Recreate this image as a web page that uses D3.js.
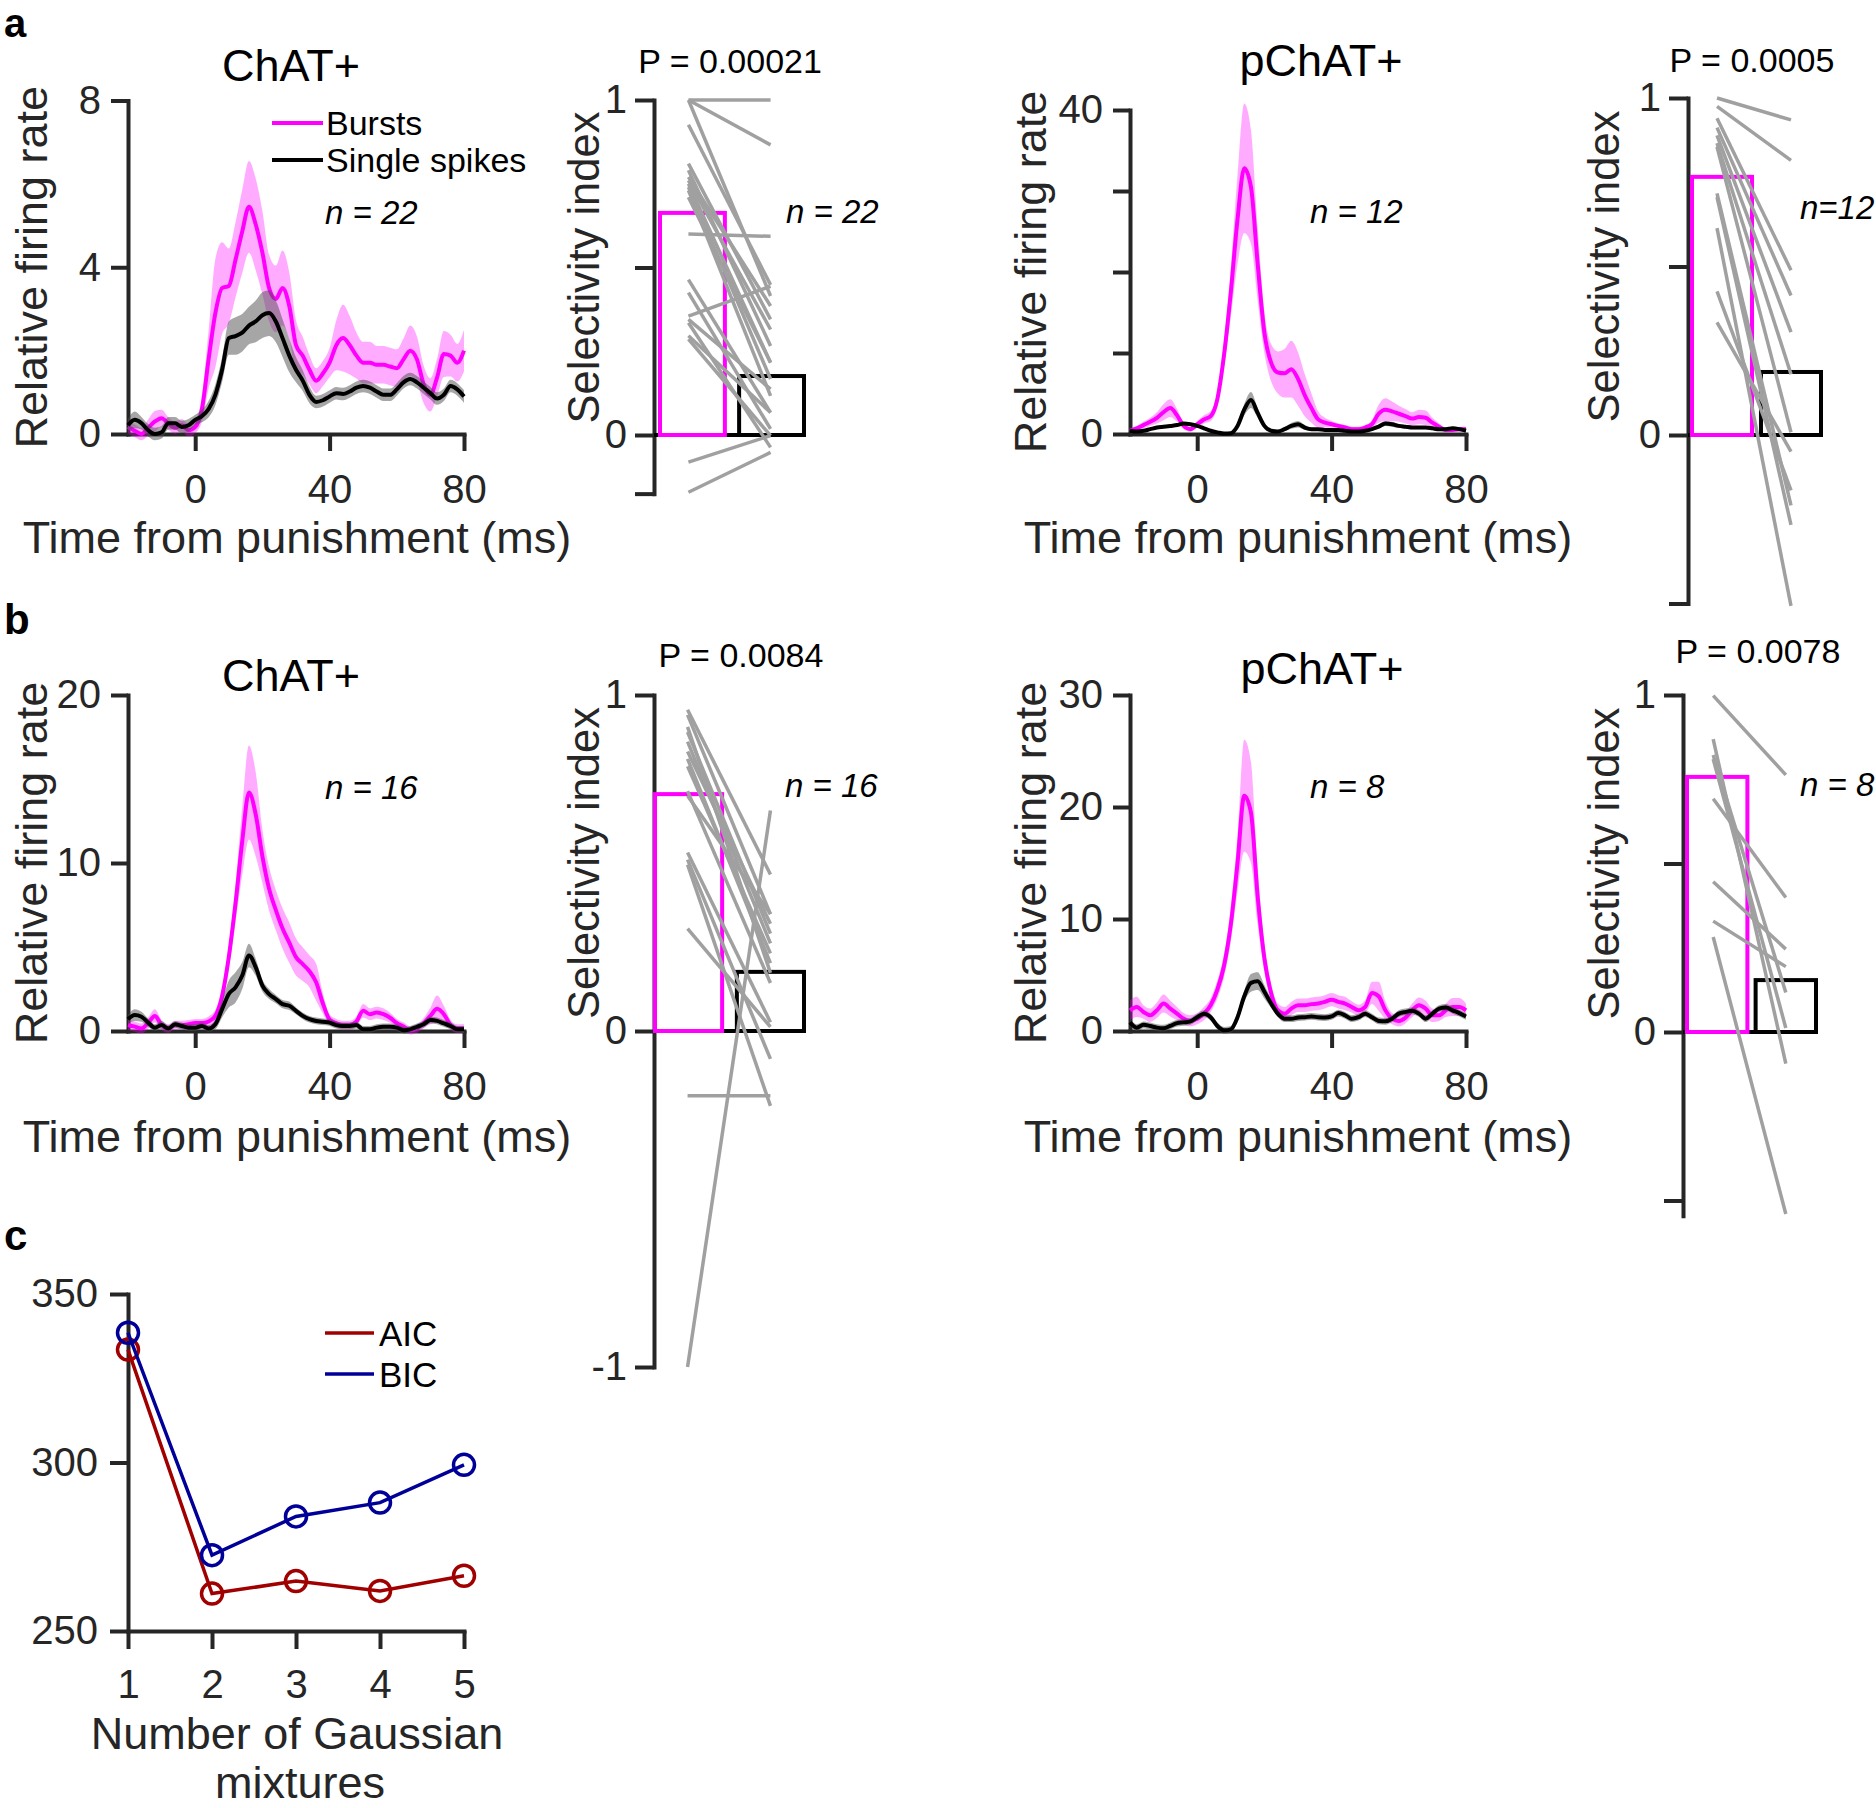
<!DOCTYPE html>
<html><head><meta charset="utf-8">
<script src="https://cdn.jsdelivr.net/npm/d3@7"></script>
<style>body{margin:0;background:#fff;}</style>
</head><body><script>
// ---------------- DATA ----------------
const tMs = [-20,-18,-16,-14,-12,-10,-8,-6,-4,-2,0,2,4,6,8,10,12,14,16,18,20,22,24,26,28,30,32,34,36,38,40,42,44,46,48,50,52,54,56,58,60,62,64,66,68,70,72,74,76,78,80];

// a: ChAT+
const aChatBurstMean = [.17,.08,0,.15,.3,.38,.25,.15,.21,.09, .17,.6,1.8,2.9,3.5,3.55,4.18,4.86,5.45,5.03, 4.35,3.5,3.24,3.5,3.07,2.13,1.88,1.54,1.28,1.45, 1.71,2.13,2.3,2.13,1.88,1.71,1.71,1.66,1.66,1.62, 1.58,1.79,2.0,1.79,1.19,.94,1.36,1.92,1.88,1.71,2.0];
const aChatBurstSem  = [.15,.15,.15,.2,.25,.2,.15,.15,.15,.15, .15,.3,.7,1.3,1.1,.9,.9,1.0,1.1,1.1, 1.0,.8,.8,.9,.8,.6,.45,.35,.3,.3, .35,.6,.8,.7,.55,.5,.5,.45,.45,.45, .45,.5,.6,.55,.45,.4,.45,.55,.5,.45,.5];
const aChatSingleMean = [.21,.34,.26,.09,0,.04,.26,.26,.17,.21, .34,.43,.6,.94,1.54,2.3,2.35,2.43,2.6,2.7, 2.85,2.9,2.7,2.3,1.88,1.54,1.28,.94,.77,.81, .9,.98,.96,1.02,1.11,1.15,1.11,1.02,.94,.94, 1.07,1.24,1.32,1.24,1.11,.98,.85,.94,1.15,1.07,.9];
const aChatSingleSem  = [.15,.2,.15,.15,.15,.15,.15,.15,.15,.15, .12,.15,.2,.25,.3,.4,.45,.45,.45,.5, .55,.55,.5,.45,.4,.3,.25,.2,.15,.15, .15,.15,.15,.15,.15,.15,.15,.15,.15,.15, .15,.15,.15,.15,.15,.15,.15,.15,.15,.15,.15];

// a: pChAT+
const aPchatBurstMean = [.4,.7,1.1,1.5,2.0,2.7,3.2,2.3,1.0,.6, 1.2,1.8,2.2,4.3,9.8,17.5,26.5,32.8,30.5,21.0, 12.5,8.8,7.6,7.5,8.0,6.8,4.8,3.2,1.8,1.4, 1.2,1.0,.8,.6,.6,.8,1.2,2.5,3.0,2.8, 2.5,2.2,1.9,2.1,2.0,1.4,.9,.5,.5,.6,.6];
const aPchatBurstSem  = [.3,.3,.4,.5,.7,1.0,1.1,.8,.4,.3, .4,.5,.6,.9,1.6,3.0,5.5,8.0,7.0,4.5, 2.5,2.3,2.6,3.0,3.5,3.3,2.6,1.8,1.0,.6, .4,.3,.3,.3,.3,.3,.5,1.1,1.4,1.2, 1.0,.9,.8,.9,.9,.6,.4,.3,.3,.3,.3];
const aPchatSingleMean = [.4,.3,.4,.6,.8,.9,1.0,1.1,1.3,1.2, 1.0,.7,.4,.2,.05,.1,1.0,3.0,4.2,2.6, 1.0,.4,.3,.6,1.0,1.2,.8,.6,.6,.5, .5,.5,.4,.3,.3,.4,.6,.9,1.3,1.2, 1.0,.9,.8,.8,.8,.7,.6,.6,.7,.6,.4];
const aPchatSingleSem  = [.15,.15,.15,.15,.15,.15,.15,.15,.15,.15, .15,.15,.15,.15,.15,.15,.3,.7,1.0,.6, .3,.2,.2,.25,.35,.4,.3,.2,.15,.15, .15,.15,.15,.15,.15,.15,.2,.25,.3,.3, .25,.2,.2,.2,.2,.2,.2,.2,.2,.2,.2];

// b: ChAT+
const bChatBurstMean = [.36,.26,.15,.47,.9,.36,.15,.36,.36,.4, .47,.47,.57,.9,2.07,4.4,7.6,11.3,14.2,12.9, 10.4,8.46,7.2,6.1,5.26,4.4,3.98,3.56,2.9,1.64, .68,.47,.36,.36,.57,1.2,1.0,1.1,1.0,.79, .47,.26,.04,.15,.47,.9,1.32,1.0,.36,.15,.15];
const bChatBurstSem  = [.3,.3,.3,.35,.4,.3,.25,.25,.25,.25, .25,.25,.3,.35,.5,.7,1.1,2.0,2.8,2.5, 1.6,1.3,1.2,1.2,1.2,1.1,1.0,.95,1.1,.6, .3,.25,.25,.25,.3,.4,.35,.35,.35,.3, .25,.25,.25,.25,.3,.5,.8,.5,.3,.25,.25];
const bChatSingleMean = [.7,.95,.85,.5,.2,.35,.15,.4,.3,.2, .2,.3,.15,.4,1.3,2.2,2.6,3.3,4.5,3.8, 2.7,2.2,1.9,1.6,1.5,1.2,.9,.7,.6,.55, .5,.35,.3,.3,.35,.1,.1,.2,.25,.25, .2,.05,.1,.25,.4,.65,.6,.45,.3,.1,.1];
const bChatSingleSem  = [.25,.35,.3,.25,.2,.25,.2,.2,.2,.2, .2,.2,.2,.3,.5,.8,.9,.8,.7,.5, .35,.3,.25,.25,.25,.2,.2,.2,.2,.2, .2,.2,.2,.2,.2,.2,.2,.2,.2,.2, .2,.2,.2,.2,.2,.2,.2,.2,.2,.2,.2];

// b: pChAT+
const bPchatBurstMean = [1.85,2.15,1.7,1.4,1.85,2.45,2.0,1.55,1.1,.9, 1.1,1.55,2.3,3.7,5.85,9.5,15.0,21.0,19.5,12.0, 6.5,3.4,1.85,1.55,2.0,2.3,2.3,2.4,2.45,2.6, 2.8,2.6,2.45,2.15,1.85,2.15,3.4,3.1,1.85,1.1, .9,1.2,1.85,2.3,2.0,1.4,1.4,1.85,2.15,2.15,1.85];
const bPchatBurstSem  = [.9,.9,.6,.6,.7,.8,.7,.6,.5,.5, .5,.6,.6,.8,1.0,1.5,2.5,5.0,4.5,2.5, 1.2,.8,.6,.6,.6,.6,.6,.6,.6,.6, .6,.6,.6,.5,.5,.6,1.0,1.3,.8,.5, .5,.5,.6,.7,.7,.6,.5,.6,.8,.8,.6];
const bPchatSingleMean = [.77,.3,.55,.45,.3,.25,.45,.7,.77,.86, 1.23,1.55,1.23,.45,.06,.15,1.23,3.1,4.3,4.45, 3.5,2.45,1.55,1.1,1.1,1.2,1.23,1.3,1.23,1.2, 1.3,1.6,1.4,1.1,1.23,1.55,1.23,.9,.86,1.1, 1.55,1.7,1.8,1.55,1.1,1.55,2.0,2.1,1.85,1.6,1.3];
const bPchatSingleSem  = [.3,.3,.3,.3,.3,.3,.3,.3,.3,.3, .3,.3,.3,.3,.3,.3,.4,.5,.8,.8, .6,.4,.3,.3,.3,.3,.3,.3,.3,.3, .3,.3,.3,.3,.3,.3,.3,.3,.3,.3, .3,.3,.3,.3,.3,.3,.3,.3,.3,.3,.3];

// Selectivity index: per-neuron (bursts, single spikes) and bar means
const siCategories = ["Bursts", "Single spikes"];
const aChatSiBurst  = [1.0,1.0,1.0,.926,.81,.79,.77,.76,.75,.74,.73,.60,.464,.425,.355,.345,.335,.296,.286,.71,-.081,-.171];
const aChatSiSingle = [1.0,.866,.415,.448,.345,.266,.385,.315,.216,.167,.117,.593,.067,.018,.444,.137,-.037,.067,-.002,.216,-.002,-.052];
const aChatSiMean   = [.663,.176];
const aPchatSiBurst  = [1.0,.975,.94,.912,.889,.866,.855,.717,.706,.614,.426,.334];
const aPchatSiSingle = [.935,.815,.489,.414,.305,.18,.008,-.209,-.267,-.507,-.164,-.049];
const aPchatSiMean   = [.766,.187];
const bChatSiBurst  = [.956,.941,.905,.89,.861,.832,.81,.788,.714,.70,.531,.51,.495,.305,-.193,-1.0];
const bChatSiSingle = [.466,.348,.173,.29,.261,.319,.202,.231,.143,.348,.026,-.083,-.223,.012,-.193,.656];
const bChatSiMean   = [.705,.176];
const bPchatSiBurst  = [.998,.869,.822,.81,.692,.446,.329,.282];
const bPchatSiSingle = [.763,-.094,.117,.012,.399,.246,.194,-.54];
const bPchatSiMean   = [.757,.154];

// c: model selection
const nMixtures = [1,2,3,4,5];
const aicValues = [333.5,261.1,264.8,261.9,266.4];
const bicValues = [338.5,272.5,284.0,288.1,299.3];

// ---------------- DRAWING ----------------
const FONT = '"Liberation Sans", Arial, Helvetica, sans-serif';
const AX = '#262626';
const MAG = '#ff00ff';
const TICKFS = 40;
const svg = d3.select('body').append('svg').attr('width',1876).attr('height',1808).style('display','block');

function txt(x,y,s,opt={}){
  const t = svg.append('text').attr('x',x).attr('y',y).text(s)
    .attr('font-family',FONT).attr('font-size',opt.fs||34).attr('fill',opt.fill||'#1a1a1a')
    .attr('text-anchor',opt.anchor||'start');
  if(opt.italic) t.attr('font-style','italic');
  if(opt.bold) t.attr('font-weight','bold');
  if(opt.rot){ t.attr('transform',`rotate(-90,${x},${y})`).attr('dominant-baseline','central'); }
  if(opt.mid) t.attr('dominant-baseline','central');
  return t;
}
function styleAxis(g, fs){
  g.select('.domain').attr('stroke',AX).attr('stroke-width',4).attr('stroke-linecap','square');
  g.selectAll('.tick line').attr('stroke',AX).attr('stroke-width',4);
  g.selectAll('.tick text').attr('fill',AX).attr('font-size',fs).attr('font-family',FONT);
}

function drawRate(p){
  const x = d3.scaleLinear().domain([-20,80]).range([p.x0,p.x1]);
  const y = d3.scaleLinear().domain([0,p.yMax]).range([p.yBot,p.yTop]);
  const g = svg.append('g');
  const gy = g.append('g').attr('transform',`translate(${p.x0},0)`)
    .call(d3.axisLeft(y).tickValues(p.yTicks).tickFormat(v=>p.yLabeled.includes(v)?String(v):'').tickSize(17).tickPadding(10).tickSizeOuter(0));
  styleAxis(gy,TICKFS);
  const gx = g.append('g').attr('transform',`translate(0,${p.yBot})`)
    .call(d3.axisBottom(x).tickValues([0,40,80]).tickFormat(String).tickSize(17).tickPadding(24).tickSizeOuter(0));
  styleAxis(gx,TICKFS);
  const band = (m,s)=>d3.area().curve(d3.curveMonotoneX).x((v,i)=>x(tMs[i])).y0((v,i)=>y(m[i]-s[i])).y1((v,i)=>y(m[i]+s[i]))(m);
  const line = (m)=>d3.line().curve(d3.curveMonotoneX).x((v,i)=>x(tMs[i])).y((v,i)=>y(v))(m);
  g.append('path').attr('d',band(p.bm,p.bs)).attr('fill',MAG).attr('fill-opacity',0.33);
  g.append('path').attr('d',line(p.bm)).attr('fill','none').attr('stroke',MAG).attr('stroke-width',4);
  g.append('path').attr('d',band(p.sm,p.ss)).attr('fill','#4d4d4d').attr('fill-opacity',0.5);
  g.append('path').attr('d',line(p.sm)).attr('fill','none').attr('stroke','#000').attr('stroke-width',4);
  txt(p.titleX,p.titleY,p.title,{fs:45,anchor:'middle',fill:'#000'});
  txt(p.nX,p.nY,p.nText,{fs:33,italic:true,fill:'#000'});
  txt(p.ylabelX,(p.yTop+p.yBot)/2,'Relative firing rate',{fs:45,anchor:'middle',rot:true,fill:AX});
  txt((p.x0+p.x1)/2+(p.xlabDx||0),p.xlabY,'Time from punishment (ms)',{fs:45,anchor:'middle',fill:AX});
}

function drawSel(p){
  const y = d3.scaleLinear().domain([p.yMin,1]).range([p.yZero - p.yMin*(p.yZero-p.yOne), p.yOne]);
  const xb = d3.scaleBand().domain(siCategories).range(p.barRange).paddingInner(p.pad).paddingOuter(0);
  const g = svg.append('g');
  const gy = g.append('g').attr('transform',`translate(${p.axisX},0)`)
    .call(d3.axisLeft(y).tickValues(p.ticks).tickFormat(v=>p.labeled.includes(v)?String(v):'').tickSize(19).tickPadding(8).tickSizeOuter(0));
  styleAxis(gy,TICKFS);
  g.append('line').attr('x1',p.axisX).attr('x2',xb('Single spikes')+xb.bandwidth()).attr('y1',y(0)).attr('y2',y(0)).attr('stroke','#000').attr('stroke-width',4);
  const cols = [MAG,'#000'];
  siCategories.forEach((c,i)=>{
    g.append('rect').attr('x',xb(c)).attr('y',y(p.means[i])).attr('width',xb.bandwidth()).attr('height',y(0)-y(p.means[i]))
      .attr('fill','none').attr('stroke',cols[i]).attr('stroke-width',4);
  });
  const xl = xb('Bursts')+xb.bandwidth()/2 + (p.lineDx0||0), xr = xb('Single spikes')+xb.bandwidth()/2 + (p.lineDx1||0);
  p.left.forEach((v,i)=>{
    g.append('line').attr('x1',xl).attr('x2',xr).attr('y1',y(v)).attr('y2',y(p.right[i]))
      .attr('stroke','#a0a0a0').attr('stroke-width',3.5);
  });
  txt(p.pX,p.pY,p.pText,{fs:34,anchor:'middle',fill:'#000'});
  txt(p.nX,p.nY,p.nText,{fs:33,italic:true,fill:'#000'});
  txt(p.ylabelX,(p.yOne+p.yZero)/2,'Selectivity index',{fs:43.5,anchor:'middle',rot:true,fill:AX});
}

// rate panels
drawRate({x0:128,x1:464,yTop:100.5,yBot:434,yMax:8,yTicks:[0,4,8],yLabeled:[0,4,8],bm:aChatBurstMean,bs:aChatBurstSem,sm:aChatSingleMean,ss:aChatSingleSem,
  title:'ChAT+',titleX:291,titleY:81,nText:'n = 22',nX:325,nY:224,ylabelX:31,xlabY:553,xlabDx:1});
drawRate({x0:1130,x1:1466,yTop:110,yBot:434,yMax:40,yTicks:[0,10,20,30,40],yLabeled:[0,40],bm:aPchatBurstMean,bs:aPchatBurstSem,sm:aPchatSingleMean,ss:aPchatSingleSem,
  title:'pChAT+',titleX:1321,titleY:76,nText:'n = 12',nX:1310,nY:223,ylabelX:1030,xlabY:553});
drawRate({x0:128,x1:464,yTop:695,yBot:1031,yMax:20,yTicks:[0,10,20],yLabeled:[0,10,20],bm:bChatBurstMean,bs:bChatBurstSem,sm:bChatSingleMean,ss:bChatSingleSem,
  title:'ChAT+',titleX:291,titleY:691,nText:'n = 16',nX:325,nY:799,ylabelX:31,xlabY:1152,xlabDx:1});
drawRate({x0:1130,x1:1466,yTop:695,yBot:1031,yMax:30,yTicks:[0,10,20,30],yLabeled:[0,10,20,30],bm:bPchatBurstMean,bs:bPchatBurstSem,sm:bPchatSingleMean,ss:bPchatSingleSem,
  title:'pChAT+',titleX:1322,titleY:684,nText:'n = 8',nX:1310,nY:798,ylabelX:1030,xlabY:1152});

// legend (panel a, ChAT+)
svg.append('line').attr('x1',272).attr('x2',323).attr('y1',123).attr('y2',123).attr('stroke',MAG).attr('stroke-width',4);
svg.append('line').attr('x1',272).attr('x2',323).attr('y1',160).attr('y2',160).attr('stroke','#000').attr('stroke-width',4);
txt(326,123,'Bursts',{fs:34,mid:true,fill:'#000'});
txt(326,160,'Single spikes',{fs:34,mid:true,fill:'#000'});

// selectivity panels
drawSel({axisX:654,yOne:100,yZero:435,yMin:-0.175,ticks:[-0.175,0,0.5,1],labeled:[0,1],barRange:[660,804],pad:0.18,means:aChatSiMean,left:aChatSiBurst,right:aChatSiSingle,
  pText:'P = 0.00021',pX:730,pY:73,nText:'n = 22',nX:786,nY:223,ylabelX:584,lineDx0:-4,lineDx1:-1});
drawSel({axisX:1688,yOne:98,yZero:435,yMin:-0.5,ticks:[-0.5,0,0.5,1],labeled:[0,1],barRange:[1692,1821],pad:0.13,means:aPchatSiMean,left:aPchatSiBurst,right:aPchatSiSingle,
  pText:'P = 0.0005',pX:1752,pY:72,nText:'n=12',nX:1800,nY:219,ylabelX:1604,lineDx0:-5,lineDx1:0});
drawSel({axisX:654,yOne:695,yZero:1031,yMin:-1,ticks:[-1,0,1],labeled:[-1,0,1],barRange:[655,804],pad:0.18,means:bChatSiMean,left:bChatSiBurst,right:bChatSiSingle,
  pText:'P = 0.0084',pX:741,pY:667,nText:'n = 16',nX:785,nY:797,ylabelX:584,lineDx0:-1,lineDx1:0});
drawSel({axisX:1683,yOne:695,yZero:1032,yMin:-0.545,ticks:[-0.5,0,0.5,1],labeled:[0,1],barRange:[1687,1816],pad:0.12,means:bPchatSiMean,left:bPchatSiBurst,right:bPchatSiSingle,
  pText:'P = 0.0078',pX:1758,pY:663,nText:'n = 8',nX:1800,nY:796,ylabelX:1604,lineDx0:-4,lineDx1:0});

// panel c
(function(){
  const x = d3.scaleLinear().domain([1,5]).range([128,464]);
  const y = d3.scaleLinear().domain([250,350]).range([1631,1294]);
  const gy = svg.append('g').attr('transform','translate(128,0)')
    .call(d3.axisLeft(y).tickValues([250,300,350]).tickFormat(String).tickSize(18).tickPadding(12).tickSizeOuter(0));
  styleAxis(gy,TICKFS);
  const gx = svg.append('g').attr('transform','translate(0,1631)')
    .call(d3.axisBottom(x).tickValues(nMixtures).tickFormat(String).tickSize(18).tickPadding(21).tickSizeOuter(0));
  styleAxis(gx,TICKFS);
  const series = [{v:aicValues,c:'#a00000'},{v:bicValues,c:'#000099'}];
  series.forEach(s=>{
    svg.append('path').attr('d',d3.line().x((d,i)=>x(nMixtures[i])).y(d=>y(d))(s.v))
      .attr('fill','none').attr('stroke',s.c).attr('stroke-width',3.5);
    svg.selectAll(null).data(s.v).enter().append('circle')
      .attr('cx',(d,i)=>x(nMixtures[i])).attr('cy',d=>y(d)).attr('r',10.5)
      .attr('fill','none').attr('stroke',s.c).attr('stroke-width',3.5);
  });
  svg.append('line').attr('x1',325).attr('x2',374).attr('y1',1333).attr('y2',1333).attr('stroke','#a00000').attr('stroke-width',3.5);
  svg.append('line').attr('x1',325).attr('x2',374).attr('y1',1374).attr('y2',1374).attr('stroke','#000099').attr('stroke-width',3.5);
  txt(379,1333,'AIC',{fs:35,mid:true,fill:'#000'});
  txt(379,1374,'BIC',{fs:35,mid:true,fill:'#000'});
  txt(297,1749,'Number of Gaussian',{fs:45,anchor:'middle',fill:AX});
  txt(300,1798,'mixtures',{fs:45,anchor:'middle',fill:AX});
})();

// panel letters
txt(4,37,'a',{fs:40,bold:true,fill:'#000'});
txt(4,634,'b',{fs:42,bold:true,fill:'#000'});
txt(4,1250,'c',{fs:42,bold:true,fill:'#000'});
</script></body></html>
